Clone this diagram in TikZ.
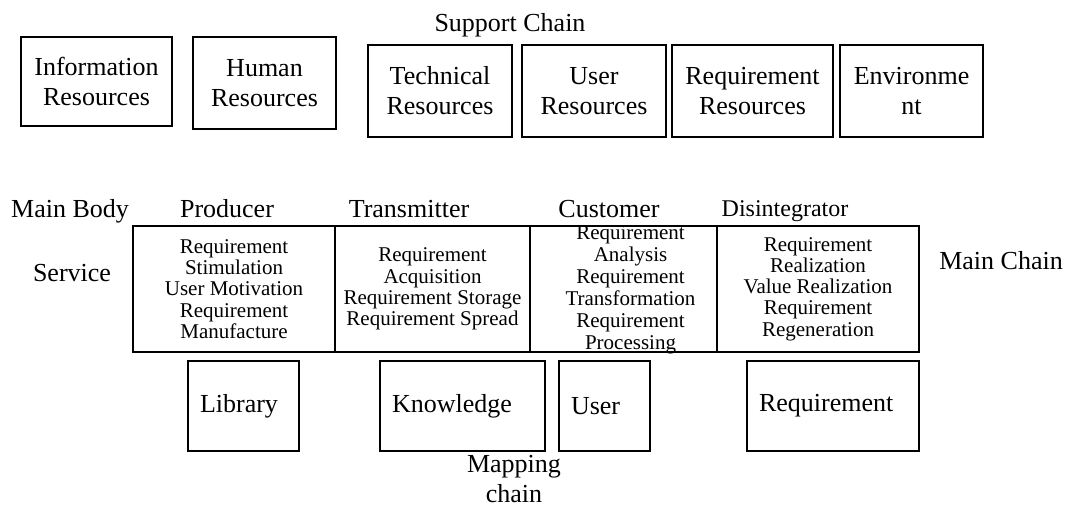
\documentclass[tikz,border=0pt]{standalone}
\usepackage{fontspec}
\setmainfont{Liberation Serif}
\usepackage{tikz}
\usetikzlibrary{positioning}

\begin{document}
\begin{tikzpicture}[
x=0.5pt, y=-0.5pt,
texts/.style = {text=black, font=\fontsize{13}{15}\selectfont},
celltexts/.style = {text=black, font=\fontsize{10.5}{10.6}\selectfont, align=center},
boxline/.style = {draw=black, line width=1.35pt},
resbox/.style = {texts, boxline, align=center, inner sep=0pt, outer sep=0pt, minimum height=46pt},
cell/.style = {boxline, inner sep=0pt, outer sep=0pt, minimum height=63pt},
mapbox/.style = {texts, boxline, align=left, inner xsep=6pt, inner ysep=0pt, outer sep=0pt, minimum height=45pt}
]
\useasboundingbox (0,0) rectangle (1068,508);

% support chain
\node[resbox, anchor=north west, minimum width=75.5pt, minimum height=44.5pt] (info) at (21,37) {Information\\Resources};
\node[resbox, minimum width=71.5pt, right=10.5pt of info, yshift=-0.75pt] (human) {Human\\Resources};
\node[resbox, anchor=north west, minimum width=72pt] (tech) at (368,45) {Technical\\Resources};
\node[resbox, minimum width=72pt, right=5pt of tech] (userres) {User\\Resources};
\node[resbox, minimum width=80.5pt, right=3pt of userres] (reqres) {Requirement\\Resources};
\node[resbox, minimum width=71.5pt, right=3.5pt of reqres] (env) {Environme\\nt};
\node[texts] (support) at (510,25) {Support Chain};

% main chain
\node[cell, anchor=north west, minimum width=101pt] (prod) at (133,226) {};
\node[cell, minimum width=97.5pt, right=0pt of prod] (trans) {};
\node[cell, minimum width=93.5pt, right=0pt of trans] (cust) {};
\node[cell, minimum width=101pt, right=0pt of cust] (disint) {};

\node[celltexts] (prodtext) at (prod) {Requirement\\Stimulation\\User Motivation\\Requirement\\Manufacture};
\node[celltexts] (transtext) at (trans) {Requirement\\Acquisition\\Requirement Storage\\Requirement Spread};
\node[celltexts, font=\fontsize{10.5}{11}\selectfont, xshift=3.5pt, yshift=-0.5pt] (custtext) at (cust) {Requirement\\Analysis\\Requirement\\Transformation\\Requirement\\Processing};
\node[celltexts] (disinttext) at (disint) {Requirement\\Realization\\Value Realization\\Requirement\\Regeneration};

\node[texts, anchor=base] (mainbody) at (70,217) {Main Body};
\node[texts, anchor=base] (producer) at (227,217) {Producer};
\node[texts, anchor=base] (transmitter) at (409,217) {Transmitter};
\node[texts, anchor=base] (customer) at (609,217) {Customer};
\node[texts, anchor=base, font=\fontsize{12}{14}\selectfont] (disintegrator) at (785,216) {Disintegrator};
\node[texts, anchor=base] (service) at (72,281) {Service};
\node[texts, anchor=base] (mainchain) at (1001,269) {Main Chain};

% mapping chain
\node[mapbox, anchor=north west, text width=43.5pt] (library) at (188,361) {Library};
\node[mapbox, text width=70.5pt, right=40.5pt of library] (knowledge) {Knowledge};
\node[mapbox, text width=33.5pt, right=7pt of knowledge] (user) {User};
\node[mapbox, text width=74pt, right=48.5pt of user] (requirement) {Requirement};
\node[texts, align=center] (mapping) at (514,479) {Mapping\\chain};
\end{tikzpicture}
\end{document}
